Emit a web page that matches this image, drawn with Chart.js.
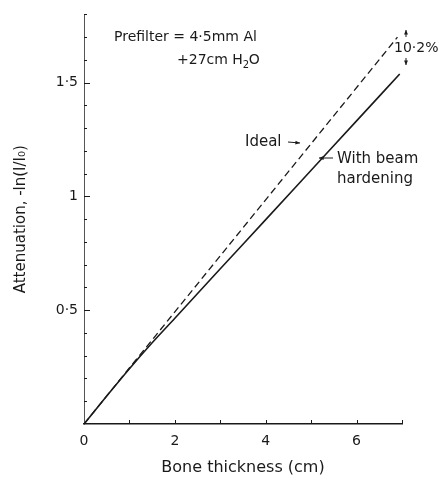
<!DOCTYPE html>
<html>
<head>
<meta charset="utf-8">
<script src="https://cdn.jsdelivr.net/npm/chart.js@4.4.1/dist/chart.umd.min.js"></script>
<style>
  html, body { margin: 0; padding: 0; background: #fff; }
  #wrap { width: 440px; height: 482px; }
</style>
</head>
<body>
<div id="wrap"><canvas id="chart"></canvas></div>
<script>
// bone thickness (cm) and attenuation
const idealX = [0, 6.9];
const idealY = [0, 1.70];
const hardX = [0, 0.5, 1, 1.5, 2, 3, 4, 5, 6, 6.95];
const hardY = [0, 0.123, 0.243, 0.357, 0.465, 0.682, 0.898, 1.115, 1.332, 1.538];

const xTickLabels = ['0', '', '2', '', '4', '', '6', ''];
const yLabelValues = [0.5, 1, 1.5];

const FONT = "'DejaVu Sans', sans-serif";
const INK = '#1a1a1a';

function pts(xs, ys) {
    return xs.map((x, i) => ({ x: x, y: ys[i] }));
}

// ticks drawn inward + text labels on the plot
const extras = {
    id: 'extras',
    afterDraw(chart) {
        const ctx = chart.ctx;
        const xs = chart.scales.x;
        const ys = chart.scales.y;
        ctx.save();
        ctx.strokeStyle = INK;
        ctx.lineWidth = 1;

        // y ticks every 0.1, longer at 0.5
        for (let i = 1; i <= 18; i++) {
            const py = Math.round(ys.getPixelForValue(i / 10)) + 0.5;
            const len = (i % 5 === 0) ? 6 : 3;
            ctx.beginPath();
            ctx.moveTo(xs.left, py);
            ctx.lineTo(xs.left + len, py);
            ctx.stroke();
        }
        // x ticks every 1
        for (let i = 1; i <= 7; i++) {
            const px = Math.round(xs.getPixelForValue(i)) + 0.5;
            ctx.beginPath();
            ctx.moveTo(px, ys.bottom);
            ctx.lineTo(px, ys.bottom - 4);
            ctx.stroke();
        }

        ctx.fillStyle = INK;
        ctx.font = '14px ' + FONT;
        ctx.textBaseline = 'middle';
        ctx.textAlign = 'left';
        ctx.fillText('Prefilter = 4\u00B75mm Al', 114, 37);
        ctx.fillText('+27cm H', 177, 60);
        const w = ctx.measureText('+27cm H').width;
        ctx.font = '10px ' + FONT;
        ctx.fillText('2', 177 + w, 65);
        ctx.font = '14px ' + FONT;
        ctx.fillText('O', 177 + w + 6, 60);
        ctx.fillText('10\u00B72%', 394, 48);

        ctx.font = '15px ' + FONT;
        ctx.fillText('Ideal', 245, 142);
        ctx.fillText('With beam', 337, 159);
        ctx.fillText('hardening', 337, 179);

        // arrows
        function arrow(x1, y1, x2, y2) {
            ctx.beginPath();
            ctx.moveTo(x1, y1);
            ctx.lineTo(x2, y2);
            ctx.stroke();
            const a = Math.atan2(y2 - y1, x2 - x1);
            ctx.beginPath();
            ctx.moveTo(x2, y2);
            ctx.lineTo(x2 - 5 * Math.cos(a - 0.4), y2 - 5 * Math.sin(a - 0.4));
            ctx.lineTo(x2 - 5 * Math.cos(a + 0.4), y2 - 5 * Math.sin(a + 0.4));
            ctx.closePath();
            ctx.fill();
        }
        arrow(288, 142, 300, 143);
        arrow(333, 158, 319, 158);
        arrow(406, 37, 406, 30);
        arrow(406, 58, 406, 65);
        ctx.restore();
    }
};

new Chart(document.getElementById('chart'), {
    type: 'scatter',
    data: {
        datasets: [
            {
                label: 'Ideal',
                data: pts(idealX, idealY),
                showLine: true,
                borderColor: INK,
                borderWidth: 1.3,
                borderDash: [7, 4],
                pointRadius: 0,
                tension: 0
            },
            {
                label: 'With beam hardening',
                data: pts(hardX, hardY),
                showLine: true,
                borderColor: INK,
                borderWidth: 1.6,
                pointRadius: 0,
                cubicInterpolationMode: 'monotone'
            }
        ]
    },
    options: {
        responsive: true,
        maintainAspectRatio: false,
        animation: false,
        layout: { padding: { top: 6, right: 38, left: 12, bottom: 0 } },
        plugins: {
            legend: { display: false },
            tooltip: { enabled: false }
        },
        scales: {
            x: {
                type: 'linear',
                min: 0,
                max: 7,
                afterFit(scale) { scale.height = 58; },
                ticks: {
                    stepSize: 1,
                    autoSkip: false,
                    maxRotation: 0,
                    padding: 9,
                    color: INK,
                    font: { family: FONT, size: 14 },
                    callback: function(value) {
                        return xTickLabels[value] || '';
                    }
                },
                grid: { display: false, drawTicks: false },
                border: { display: true, color: INK, width: 1.4 },
                title: {
                    display: true,
                    text: 'Bone thickness (cm)',
                    color: INK,
                    font: { family: FONT, size: 16 },
                    padding: { top: 1, bottom: 5 }
                }
            },
            y: {
                type: 'linear',
                min: 0,
                max: 1.8,
                afterFit(scale) { scale.width = 72; },
                ticks: {
                    stepSize: 0.5,
                    padding: 6,
                    color: INK,
                    font: { family: FONT, size: 14 },
                    callback: function(value) {
                        if (!yLabelValues.includes(value)) return '';
                        return String(value).replace('.', '\u00B7');
                    }
                },
                grid: { display: false, drawTicks: false },
                border: { display: true, color: '#555', width: 1, dash: [3, 2] },
                title: {
                    display: true,
                    text: 'Attenuation, -ln(I/I\u2080)',
                    color: INK,
                    font: { family: FONT, size: 15 },
                    padding: { top: 0, bottom: 8 }
                }
            }
        }
    },
    plugins: [extras]
});
</script>
</body>
</html>
